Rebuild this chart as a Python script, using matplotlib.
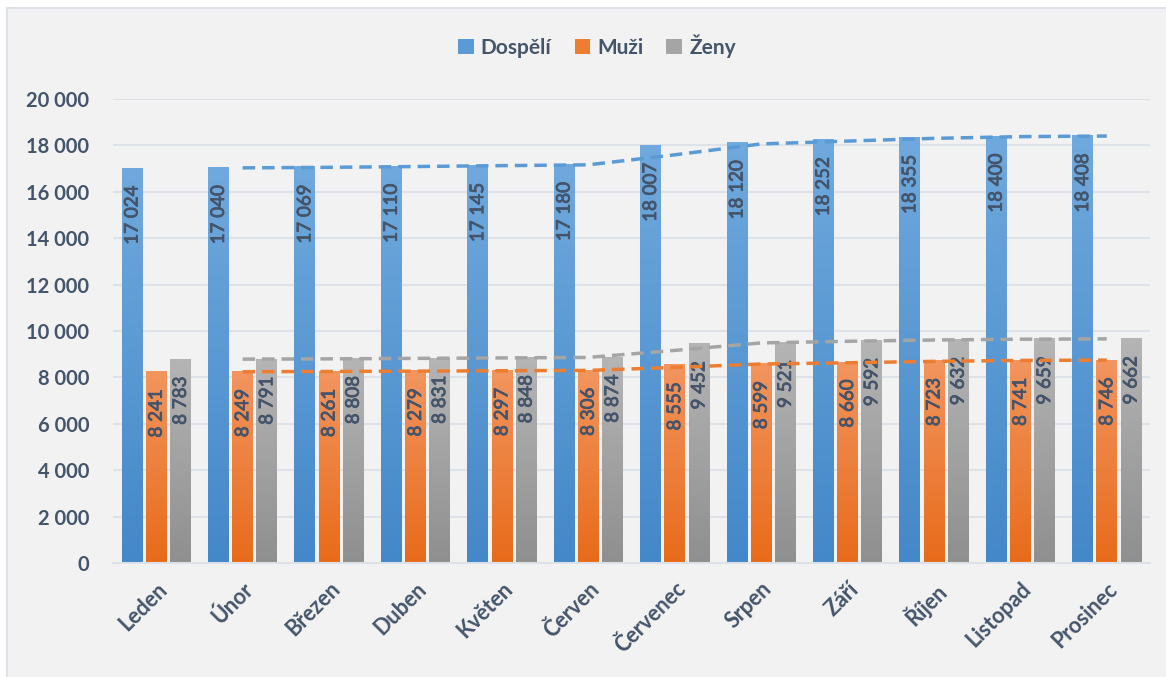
import numpy as np
import matplotlib
matplotlib.use("Agg")
import matplotlib.pyplot as plt
import matplotlib.patheffects as pe
from matplotlib.patches import Patch, Rectangle
from matplotlib.colors import LinearSegmentedColormap

plt.rcParams['font.family'] = ['Lato', 'DejaVu Sans']

# Data
months = ['Leden', 'Únor', 'Březen', 'Duben', 'Květen', 'Červen',
          'Červenec', 'Srpen', 'Září', 'Říjen', 'Listopad', 'Prosinec']
dospeli = [17024, 17040, 17069, 17110, 17145, 17180, 18007, 18120, 18252, 18355, 18400, 18408]
muzi = [8241, 8249, 8261, 8279, 8297, 8306, 8555, 8599, 8660, 8723, 8741, 8746]
zeny = [8783, 8791, 8808, 8831, 8848, 8874, 9452, 9521, 9592, 9632, 9659, 9662]

# dashed trend lines (2-period moving average as drawn in the chart)
dospeli_trend = [np.nan, 17032, 17054.5, 17089.5, 17127.5, 17162.5, 17593.5, 18063.5, 18186, 18303.5, 18377.5, 18404]
muzi_trend = [np.nan, 8245, 8255, 8270, 8288, 8301.5, 8430.5, 8577, 8629.5, 8691.5, 8732, 8743.5]
zeny_trend = [np.nan, 8787, 8799.5, 8819.5, 8839.5, 8861, 9163, 9486.5, 9556.5, 9612, 9645.5, 9660.5]

series = [
    ('Dospělí', dospeli, dospeli_trend, '#70a9dd', '#4388c9', '#5b9bd5'),
    ('Muži', muzi, muzi_trend, '#f2955f', '#e86b1a', '#ed7d31'),
    ('Ženy', zeny, zeny_trend, '#b5b5b5', '#8f8f8f', '#a5a5a5'),
]

text_col = '#44546a'
grid_col = '#dde2e8'

fig = plt.figure(figsize=(11.66, 6.77), dpi=100)
fig.patch.set_facecolor('white')
bg = Rectangle((7 / 1166, -0.01), 1.1, 1 - 8 / 677 + 0.01, transform=fig.transFigure,
               facecolor='#f2f2f2', edgecolor='#dde2e8', linewidth=1.5, zorder=-10)
fig.patches.append(bg)

ax = fig.add_axes([113 / 1166, 1 - 563 / 677, (1150 - 113) / 1166, (563 - 99) / 677])
ax.set_facecolor('none')

x = np.arange(len(months))
width = 0.24
step = 0.28

handles = []
for i, (name, vals, trend, top, bot, line_col) in enumerate(series):
    pos = x + (i - 1) * step
    cmap = LinearSegmentedColormap.from_list(name, [bot, top])
    grad = np.linspace(0, 1, 256).reshape(-1, 1)
    bars = ax.bar(pos, vals, width, color='none', zorder=2)
    for b in bars:
        x0, y0 = b.get_x(), b.get_y()
        ax.imshow(grad, extent=[x0, x0 + b.get_width(), y0, y0 + b.get_height()],
                  origin='lower', cmap=cmap, aspect='auto', zorder=2)
    for p, v in zip(pos, vals):
        ax.annotate(f"{v:,}".replace(",", " "), (p, v), xytext=(0, -12.5), textcoords='offset points',
                    rotation=90, ha='center', va='top', fontsize=13.5, color=text_col, zorder=4,
                    path_effects=[pe.withStroke(linewidth=0.6, foreground=text_col)])
    handles.append(Patch(facecolor=line_col, label=name))

for i, (name, vals, trend, top, bot, line_col) in enumerate(series):
    ax.plot(x, trend, color=line_col, linewidth=2.5, linestyle=(0, (3.6, 2.0)), zorder=5)

ax.set_xlim(-0.5, len(months) - 0.5)
ax.set_ylim(0, 20000)
ax.set_yticks(np.arange(0, 20001, 2000))
ax.set_yticklabels([f"{v:,}".replace(",", " ") for v in range(0, 20001, 2000)],
                   fontsize=14.5, fontweight='bold', color=text_col)
ax.set_xticks(x)
ax.set_xticklabels(months, rotation=45, ha='right', rotation_mode='anchor',
                   fontsize=15.5, fontweight='bold', color=text_col)
ax.tick_params(axis='y', length=0, pad=17)
ax.tick_params(axis='x', length=0, pad=11)
ax.grid(axis='y', color=grid_col, linewidth=1.5, zorder=0)
ax.set_axisbelow(True)
for s in ['top', 'right', 'left']:
    ax.spines[s].set_visible(False)
ax.spines['bottom'].set_color(grid_col)
ax.spines['bottom'].set_linewidth(1.5)

fig.legend(handles=handles, loc='center', bbox_to_anchor=(0.512, 0.932), ncol=3, frameon=False,
           handlelength=0.75, handleheight=0.75, handletextpad=0.35, columnspacing=1.1,
           prop={'size': 15, 'weight': 'bold'}, labelcolor=text_col)

fig.savefig('out.png', dpi=100, facecolor=fig.get_facecolor())
